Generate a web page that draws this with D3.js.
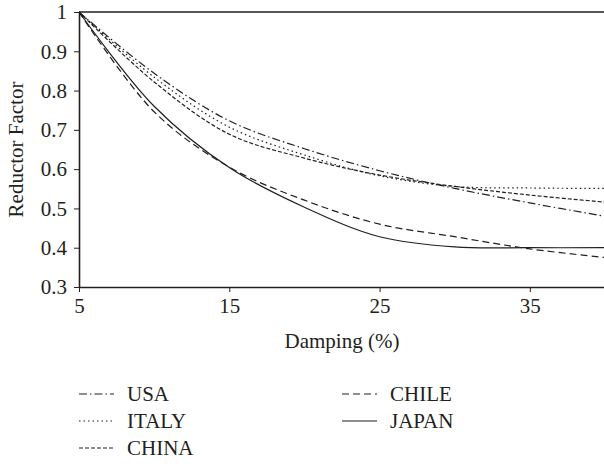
<!DOCTYPE html>
<html>
<head>
<meta charset="utf-8">
<script src="https://cdn.jsdelivr.net/npm/d3@7"></script>
<style>
  body { margin: 0; background: #fff; }
  text { font-family: "Liberation Serif", "DejaVu Serif", serif; fill: #231f20; }
</style>
</head>
<body>
<div id="chart"></div>
<script>
// damping values (%)
var damping = [5, 10, 15, 20, 25, 30, 35, 40];

// reductor factor per code
var usa   = [1, 0.844, 0.723, 0.652, 0.596, 0.551, 0.514, 0.480];
var italy = [1, 0.834, 0.707, 0.636, 0.583, 0.556, 0.552, 0.551];
var china = [1, 0.822, 0.689, 0.628, 0.585, 0.556, 0.534, 0.516];
var chile = [1, 0.746, 0.605, 0.521, 0.460, 0.428, 0.397, 0.375];
var japan = [1, 0.760, 0.604, 0.503, 0.428, 0.402, 0.400, 0.400];

var xTicks = [5, 15, 25, 35];
var yTicks = [0.3, 0.4, 0.5, 0.6, 0.7, 0.8, 0.9, 1];

var series = [
  {name: "USA",   values: usa,   dash: "8,3,1.5,3"},
  {name: "ITALY", values: italy, dash: "1.5,3"},
  {name: "CHINA", values: china, dash: "4,2"},
  {name: "CHILE", values: chile, dash: "7,4"},
  {name: "JAPAN", values: japan, dash: null}
];

var ink = "#231f20";

// set the dimensions and margins of the graph
var margin = {top: 12, right: -1, bottom: 177, left: 79},
    width = 604 - margin.left - margin.right,
    height = 464 - margin.top - margin.bottom;

var x = d3.scaleLinear().domain([5, 40]).range([0, width]);
var y = d3.scaleLinear().domain([0.3, 1]).range([height, 0]);

var svg = d3.select("#chart").append("svg")
    .attr("width", 604)
    .attr("height", 464)
    .append("g")
    .attr("transform", "translate(" + margin.left + "," + margin.top + ")");

// top border
svg.append("line")
    .attr("x1", 0).attr("x2", width)
    .attr("y1", 0).attr("y2", 0)
    .attr("stroke", ink)
    .attr("stroke-width", 1.3);

// curves
var line = d3.line()
    .x(function(d) { return x(d[0]); })
    .y(function(d) { return y(d[1]); })
    .curve(d3.curveCatmullRom.alpha(0.5));

series.forEach(function(s) {
  svg.append("path")
      .datum(damping.map(function(d, i) { return [d, s.values[i]]; }))
      .attr("fill", "none")
      .attr("stroke", ink)
      .attr("stroke-width", 1.2)
      .attr("stroke-dasharray", s.dash)
      .attr("d", line);
});

// x axis
var xAxis = svg.append("g")
    .attr("transform", "translate(0," + height + ")")
    .call(d3.axisBottom(x).tickValues(xTicks).tickSize(5).tickSizeOuter(0).tickPadding(6));

// y axis
var yAxis = svg.append("g")
    .call(d3.axisLeft(y).tickValues(yTicks).tickSize(5).tickSizeOuter(0).tickPadding(7)
      .tickFormat(function(d) { return d3.format("")(d); }));

[xAxis, yAxis].forEach(function(a) {
  a.select(".domain").attr("stroke", ink).attr("stroke-width", 1.6);
  a.selectAll(".tick line").attr("stroke", ink).attr("stroke-width", 1);
  a.selectAll(".tick text").style("font-size", "21px").attr("fill", ink);
});

// axis titles
svg.append("text")
    .attr("x", width / 2)
    .attr("y", height + 61)
    .style("text-anchor", "middle")
    .style("font-size", "21px")
    .text("Damping (%)");

svg.append("text")
    .attr("transform", "translate(" + (23 - margin.left) + "," + (height / 2) + ") rotate(-90)")
    .style("text-anchor", "middle")
    .style("font-size", "21px")
    .text("Reductor Factor");

// legend
var legendPos = [
  {x: 0, y: 382}, {x: 0, y: 409}, {x: 0, y: 436},
  {x: 263, y: 382}, {x: 263, y: 409}
];

series.forEach(function(s, i) {
  var g = svg.append("g")
      .attr("transform", "translate(" + legendPos[i].x + "," + legendPos[i].y + ")");
  g.append("line")
      .attr("x1", 0).attr("x2", 35)
      .attr("y1", 0).attr("y2", 0)
      .attr("stroke", ink)
      .attr("stroke-width", 1.2)
      .attr("stroke-dasharray", s.dash);
  g.append("text")
      .attr("x", 48)
      .attr("y", 7)
      .style("font-size", "21px")
      .text(s.name);
});
</script>
</body>
</html>
